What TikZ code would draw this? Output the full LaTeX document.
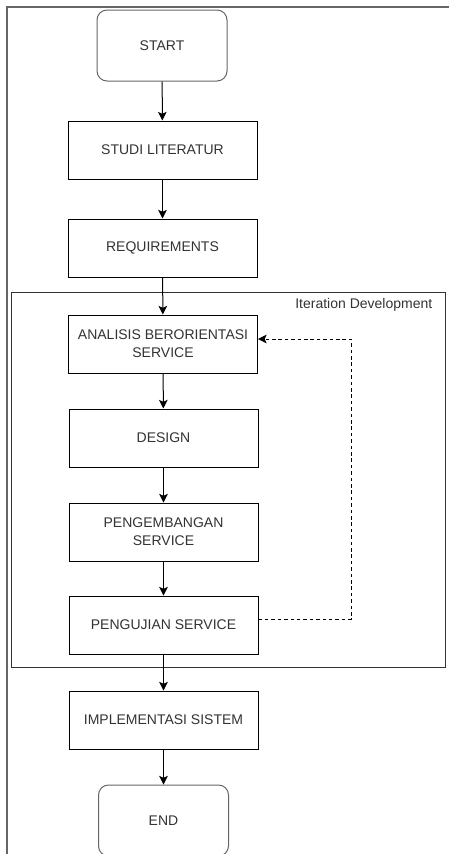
\documentclass[tikz,border=0pt]{standalone}
\usepackage{fontspec}
\setmainfont{Liberation Sans}
\usetikzlibrary{arrows.meta,calc}
\definecolor{txt}{HTML}{333333}
\definecolor{rbord}{HTML}{666666}
\begin{document}
\begin{tikzpicture}[x=0.75pt,y=-0.75pt,
  every node/.style={font=\fontsize{10.5pt}{13.5pt}\selectfont, text=txt, align=center},
  procbox/.style={draw=black, line width=0.75pt, rectangle, minimum width=141.75pt, minimum height=43.5pt, inner sep=1pt},
  termbox/.style={draw=rbord, line width=0.75pt, rectangle, rounded corners=7.5pt, minimum width=97.5pt, minimum height=53.25pt},
  flow/.style={draw=black, line width=0.75pt, -{Stealth[length=6.5pt,width=6.5pt,inset=1.5pt]}},
  loopback/.style={draw=black, line width=0.75pt, dash pattern=on 2.6pt off 2.2pt, -{Stealth[length=6.5pt,width=6.5pt,inset=1.5pt]}}
]
\useasboundingbox (0,0) rectangle (449,854);
\fill[white] (0,0) rectangle (449,854);
% outer frame
\draw[draw=rbord, line width=0.8pt] (7,860) -- (7,7) -- (455,7);
% iteration box
\draw[draw=txt, line width=0.75pt] (11,292) rectangle (445,667);
\node[anchor=east] (itlabel) at (437,305) {Iteration Development};

\node[termbox] (start) at (162,45.5) {START};
\node[procbox] (studi) at (162.5,150) {STUDI LITERATUR};
\node[procbox] (req) at (162.5,248) {REQUIREMENTS};
\node[procbox] (ana) at (163,344) {ANALISIS BERORIENTASI\\SERVICE};
\node[procbox] (design) at (163.5,438) {DESIGN};
\node[procbox] (peng) at (163.5,532) {PENGEMBANGAN\\SERVICE};
\node[procbox] (penguj) at (163.5,625) {PENGUJIAN SERVICE};
\node[procbox] (impl) at (163.5,720) {IMPLEMENTASI SISTEM};
\node[termbox] (end) at (163.5,820.5) {END};

\draw[flow] (start) -- (studi);
\draw[flow] (studi) -- (req);
\draw[flow] (req) -- (ana);
\draw[flow] (ana) -- (design);
\draw[flow] (design) -- (peng);
\draw[flow] (peng) -- (penguj);
\draw[flow] (penguj) -- (impl);
\draw[flow] (impl) -- (end);

\coordinate (loopcorner) at (351,339);
\draw[loopback] ([yshift=4.5pt]penguj.east) -| (loopcorner) -- (ana.east |- loopcorner);
\end{tikzpicture}
\end{document}
